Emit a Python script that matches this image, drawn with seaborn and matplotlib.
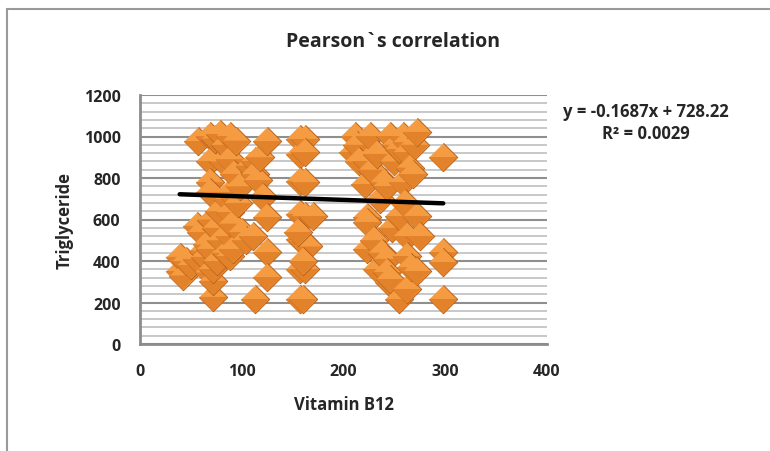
import seaborn as sns
import matplotlib.pyplot as plt
import pandas as pd
from matplotlib.ticker import MultipleLocator
from matplotlib.patches import Rectangle

# 数据
vitamin_b12 = [39, 39, 42, 45, 50, 56, 56, 57, 60, 62, 64, 66, 68, 69, 69, 69, 69, 69, 70, 72,
               72, 72, 74, 75, 76, 78, 79, 80, 82, 84, 85, 86, 88, 88, 88, 88, 88, 88, 90, 91,
               92, 94, 96, 98, 100, 104, 108, 111, 113, 113, 113, 116, 118, 121, 125, 125, 125, 125,
               157, 157, 157, 157, 157, 157, 157, 162, 162, 162, 162, 160, 162, 160, 170, 165, 155, 160,
               209, 211, 213, 215, 221, 223, 223, 223, 223, 226, 228, 230, 233, 233, 236, 238, 240, 243,
               243, 243, 245, 246, 246, 248, 250, 252, 255, 255, 255, 258, 258, 260, 262, 262, 262, 262,
               262, 265, 266, 268, 270, 272, 272, 272, 275, 298, 298, 298, 298]
triglyceride = [352, 420, 330, 400, 380, 410, 569, 978, 540, 450, 420, 480, 345, 1002, 882, 780, 733, 458, 600, 227,
                304, 361, 990, 560, 400, 640, 1012, 500, 880, 960, 440, 700, 1002, 891, 733, 636, 520, 424, 580, 458,
                820, 980, 680, 760, 540, 500, 860, 520, 217, 882, 819, 790, 900, 708, 978, 612, 443, 323,
                988, 916, 785, 627, 506, 361, 217, 988, 925, 780, 617, 496, 361, 217, 617, 470, 540, 400,
                925, 1002, 960, 880, 771, 882, 612, 588, 458, 1002, 840, 500, 916, 361, 700, 440, 780, 761,
                410, 347, 300, 1002, 313, 560, 880, 960, 617, 217, 940, 1002, 780, 680, 973, 925, 520, 424,
                265, 850, 370, 819, 960, 1022, 617, 352, 520, 901, 443, 395, 217]
slope, intercept = -0.1687, 728.22
r2 = 0.0029

df = pd.DataFrame({'Vitamin B12': vitamin_b12, 'Triglyceride': triglyceride})

sns.set_style("white")
plt.rcParams['font.family'] = ['Open Sans', 'DejaVu Sans']

fig = plt.figure(figsize=(7.7, 4.52), dpi=100)
ax = fig.add_axes([140/770, 1-345/452, 407/770, 249/452])

# 网格线
ax.yaxis.set_major_locator(MultipleLocator(200))
ax.yaxis.set_minor_locator(MultipleLocator(40))
ax.grid(axis='y', which='minor', color='#c4c4c4', lw=1.3, zorder=0)
ax.grid(axis='y', which='major', color='#8f8f8f', lw=1.5, zorder=0)
ax.set_axisbelow(True)

# 菱形点：整块 + 下半部分暗色，模仿立体效果
diamond = [(0, 1), (1, 0), (0, -1), (-1, 0)]
lower = [(-1, 0), (1, 0), (0, -1)]
for i, row in df.iterrows():
    sns.scatterplot(x=[row['Vitamin B12']], y=[row['Triglyceride']], marker=diamond, s=420,
                    color='#F59C43', edgecolor='#B8601A', linewidth=0.7, ax=ax, zorder=3 + i * 0.002)
    sns.scatterplot(x=[row['Vitamin B12']], y=[row['Triglyceride']], marker=lower, s=420,
                    color='#E2822A', edgecolor='none', linewidth=0, ax=ax, zorder=3 + i * 0.002 + 0.001)

# 趋势线
xs = [min(vitamin_b12), max(vitamin_b12)]
ax.plot(xs, [slope * x + intercept for x in xs], color='black', lw=3.2, zorder=4,
        solid_capstyle='round')

ax.set_xlim(0, 400)
ax.set_ylim(0, 1200)
ax.set_xticks([0, 100, 200, 300, 400])
for s in ['top', 'right']:
    ax.spines[s].set_visible(False)
for s in ['left', 'bottom']:
    ax.spines[s].set_color('#8c8c8c')
    ax.spines[s].set_linewidth(2)
ax.tick_params(axis='both', which='major', labelsize=11.5, length=5, width=1.5,
               color='#8c8c8c', direction='out')
ax.tick_params(axis='y', which='major', pad=9)
ax.tick_params(axis='x', which='major', pad=9)
ax.tick_params(which='minor', length=0)
for lab in ax.get_xticklabels() + ax.get_yticklabels():
    lab.set_fontweight('bold')

ax.set_xlabel('Vitamin B12', fontsize=12, fontweight='bold', labelpad=11)
ax.set_ylabel('Triglyceride', fontsize=12, fontweight='bold', labelpad=7)

fig.text(393/770, 1-42/452, 'Pearson`s correlation', ha='center', va='center',
         fontsize=14, fontweight='bold')
fig.text(646/770, 1-123/452, f'y = {slope}x + {intercept}\nR² = {r2:.4f}', ha='center',
         va='center', fontsize=12, fontweight='bold', multialignment='center',
         linespacing=1.3)

# 图表边框
fig.patches.append(Rectangle((7/770, -0.1), 1.2, 1-10/452+0.1, transform=fig.transFigure,
                             fill=False, edgecolor='#9a9a9a', lw=1.5))

fig.savefig('out.png', dpi=100)
